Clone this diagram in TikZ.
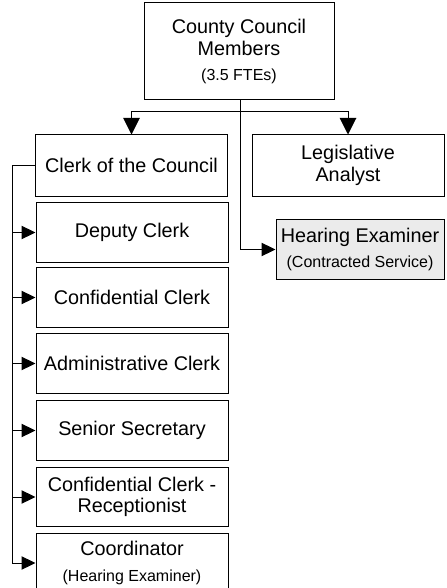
\documentclass[tikz,border=0pt]{standalone}
\usepackage{fontspec}
\setmainfont{Liberation Sans}
\usetikzlibrary{arrows.meta}
\newcommand{\bigtxt}{\fontsize{14.85}{16}\selectfont}
\newcommand{\smalltxt}{\fontsize{12}{16}\selectfont}
\definecolor{paleGray}{HTML}{EBEBEB}
\begin{document}
\begin{tikzpicture}[x=0.75pt,y=-0.75pt,line width=0.75pt,>={Triangle[length=10.5pt,width=10pt]},
	post/.style={draw,align=center,inner sep=0pt,minimum width=144pt,minimum height=44.5pt,font=\bigtxt},
	extern/.style={post,fill=paleGray,minimum width=126pt},
	bigtip/.style={-{Triangle[length=12.5pt,width=12.5pt]}}]
			\clip(0,0)rectangle(446,588);
			\node[post,minimum width=142.5pt,minimum height=72.75pt] (members) at (239,51.5) {County Council\\Members\\[3pt]{\smalltxt(3.5 FTEs)}};
			\node[post,minimum height=45.75pt] (clerk) at (131.5,165.5) {Clerk of the Council};
			\node[post,minimum height=45.75pt] (analyst) at (348,165.5) {Legislative\\Analyst};
			\node[extern] (hearing) at (360,249.5) {Hearing Examiner\\[3pt]{\smalltxt(Contracted Service)}};
			\node[post] (deputy) at (132,232.5) {Deputy Clerk};
			\node[post] (confid) at (132,297.5) {Confidential Clerk};
			\node[post] (admin) at (132,363.5) {Administrative Clerk};
			\node[post] (senior) at (132,430.5) {Senior Secretary};
			\node[post] (recep) at (132,497) {Confidential Clerk -\\Receptionist};
			\node[post,minimum height=45pt] (coord) at (132,563) {Coordinator\\[3pt]{\smalltxt(Hearing Examiner)}};
			% council to staff
			\coordinate (bar) at (240,112);
			\draw[bigtip] (bar)-|(clerk.north);
			\draw[bigtip] (bar)-|(analyst.north);
			\draw[->] (members.south)++(1,0)|-(hearing.west);
			% clerk's office
			\coordinate (bus) at (12,165.5);
			\draw[->] (clerk.west)--(bus)|-(coord.west);
			\foreach \n in {deputy,confid,admin,senior,recep}
				\draw[->] (bus|-\n.west)--(\n.west);
		\end{tikzpicture}
\end{document}
